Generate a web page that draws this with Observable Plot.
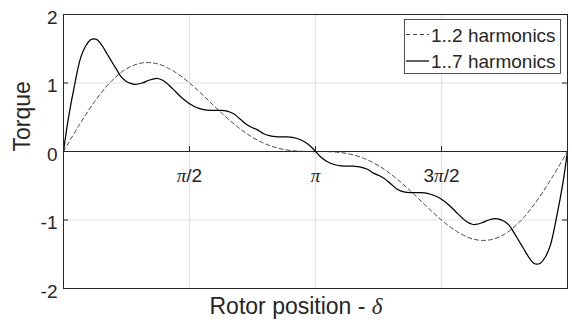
<!DOCTYPE html>
<html><head><meta charset="utf-8">
<script src="https://cdn.jsdelivr.net/npm/d3@7"></script>
<script src="https://cdn.jsdelivr.net/npm/@observablehq/plot@0.6"></script>
<style>body{margin:0;background:#fff;}</style>
</head><body><div id="chart"></div>
<script>
// ---- data ----
const seriesNames = ["1..2 harmonics", "1..7 harmonics"];

const deltaDashed = [0, 0.196, 0.393, 0.589, 0.785, 0.982, 1.178, 1.374, 1.571, 1.767, 1.963, 2.160, 2.356, 2.553, 2.749, 2.945, 3.142,
  3.338, 3.534, 3.731, 3.927, 4.123, 4.320, 4.516, 4.712, 4.909, 5.105, 5.301, 5.498, 5.694, 5.890, 6.087, 6.283];
const torqueDashed = [0, 0.386, 0.737, 1.018, 1.207, 1.293, 1.278, 1.172, 1.0, 0.790, 0.570, 0.369, 0.207, 0.094, 0.029, 0.004, 0,
  -0.004, -0.029, -0.094, -0.207, -0.369, -0.570, -0.790, -1.0, -1.172, -1.278, -1.293, -1.207, -1.018, -0.737, -0.386, 0];

const deltaSolid = [0, 0.056, 0.131, 0.214, 0.276, 0.338, 0.380, 0.420, 0.484, 0.546, 0.608, 0.670, 0.712, 0.774, 0.836, 0.898,
  0.982, 1.064, 1.147, 1.188, 1.250, 1.313, 1.396, 1.479, 1.562, 1.645, 1.748, 1.832, 1.935, 2.039, 2.122, 2.205, 2.288, 2.350,
  2.413, 2.495, 2.578, 2.661, 2.744, 2.827, 2.910, 2.993, 3.076, 3.142,
  3.207, 3.290, 3.373, 3.456, 3.539, 3.622, 3.705, 3.788, 3.870, 3.933, 3.995, 4.078, 4.161, 4.244, 4.348, 4.451, 4.535, 4.638,
  4.721, 4.804, 4.887, 4.970, 5.033, 5.095, 5.136, 5.219, 5.301, 5.385, 5.447, 5.509, 5.571, 5.613, 5.675, 5.737, 5.799, 5.863,
  5.903, 5.945, 6.007, 6.069, 6.152, 6.227, 6.283];
const torqueSolid = [0, 0.45, 0.93, 1.37, 1.54, 1.63, 1.645, 1.63, 1.54, 1.42, 1.30, 1.18, 1.10, 1.03, 0.995, 0.98,
  1.00, 1.04, 1.065, 1.062, 1.03, 0.97, 0.875, 0.78, 0.705, 0.65, 0.61, 0.60, 0.60, 0.59, 0.55, 0.47, 0.39, 0.35,
  0.32, 0.26, 0.227, 0.215, 0.212, 0.21, 0.19, 0.15, 0.08, 0,
  -0.08, -0.15, -0.19, -0.21, -0.212, -0.215, -0.227, -0.26, -0.32, -0.35, -0.39, -0.47, -0.55, -0.59, -0.60, -0.60, -0.61, -0.65,
  -0.705, -0.78, -0.875, -0.97, -1.03, -1.062, -1.065, -1.04, -1.00, -0.98, -0.995, -1.03, -1.10, -1.18, -1.30, -1.42, -1.54, -1.63,
  -1.645, -1.63, -1.54, -1.37, -0.93, -0.45, 0];

const xTickValues = [Math.PI / 2, Math.PI, 3 * Math.PI / 2];
const xTickLabels = ["π/2", "π", "3π/2"];
const yTickValues = [-2, -1, 0, 1, 2];
const yTickLabels = ["-2", "-1", "0", "1", "2"];
const xLabel = "Rotor position - δ";
const yLabel = "Torque";

// ---- layout ----
const W = 572, H = 324, mL = 63, mR = 5, mT = 14, mB = 36;
const plotW = W - mL - mR, plotH = H - mT - mB;
const ink = "#262626";
const font = "'Liberation Sans', Arial, sans-serif";
const greekFont = "'Liberation Serif', 'DejaVu Serif', serif";

const solid = deltaSolid.map((d, i) => ({delta: d, torque: torqueSolid[i]}));
const dashed = deltaDashed.map((d, i) => ({delta: d, torque: torqueDashed[i]}));

const chart = Plot.plot({
  width: W, height: H,
  marginLeft: mL, marginRight: mR, marginTop: mT, marginBottom: mB,
  x: {domain: [0, 2 * Math.PI], axis: null},
  y: {domain: [-2, 2], axis: null},
  style: {background: "white", fontFamily: font, color: ink, overflow: "visible"},
  marks: [
    Plot.ruleX(xTickValues, {stroke: "#e2e2e2", strokeWidth: 1.2}),
    Plot.ruleY([-1, 1], {stroke: "#e2e2e2", strokeWidth: 1.2}),
    Plot.ruleY([0], {stroke: ink, strokeWidth: 1}),
    Plot.tickX(xTickValues, {x: d => d, stroke: ink, insetTop: plotH / 2 - 5, insetBottom: plotH / 2}),
    Plot.tickY(yTickValues.slice(1, -1), {y: d => d, stroke: ink, insetRight: plotW - 5}),
    Plot.tickY(yTickValues.slice(1, -1), {y: d => d, stroke: ink, insetLeft: plotW - 5}),
    Plot.line(dashed, {x: "delta", y: "torque", curve: "catmull-rom", stroke: "#333", strokeWidth: 0.9, strokeDasharray: "4,3"}),
    Plot.line(solid, {x: "delta", y: "torque", curve: "catmull-rom", stroke: "black", strokeWidth: 1.25}),
    Plot.frame({stroke: ink, strokeWidth: 1}),
    Plot.text(xTickValues, {x: d => d, y: 0, text: (d, i) => xTickLabels[i], dy: 24, fontSize: 19, fill: ink}),
    Plot.text(yTickValues, {y: d => d, text: (d, i) => yTickLabels[i], frameAnchor: "left", dx: -6, dy: 3, textAnchor: "end", fontSize: 19, fill: ink}),
    Plot.text([yLabel], {text: d => d, frameAnchor: "left", dx: -41, rotate: -90, fontSize: 23, fill: ink}),
    Plot.text([xLabel], {text: d => d, frameAnchor: "bottom-left", dx: 146, dy: 9, lineAnchor: "top", textAnchor: "start", fontSize: 23, fill: ink})
  ]
});
document.getElementById("chart").appendChild(chart);

const svg = d3.select(chart);
// Greek letters in italic serif, as in the reference
svg.selectAll("text").each(function () {
  const s = this.textContent;
  if (!/[πδ]/.test(s) || this.querySelector("tspan")) return;
  const t = d3.select(this);
  t.text(null);
  s.split(/([πδ])/).filter(p => p).forEach(p => {
    const ts = t.append("tspan").text(p);
    if (p === "π" || p === "δ") ts.attr("font-family", greekFont).style("font-family", greekFont).style("font-style", "italic");
  });
});

// legend
const lg = svg.append("g").attr("text-anchor", "start");
lg.append("rect").attr("x", 404.5).attr("y", 19.5).attr("width", 156).attr("height", 54)
  .attr("fill", "white").attr("stroke", ink).attr("stroke-width", 0.8);
const entries = [
  {name: seriesNames[0], dash: "4,3", sw: 0.9, color: "#333", ly: 34.5, ty: 41.5},
  {name: seriesNames[1], dash: null, sw: 1.25, color: "black", ly: 61, ty: 68}
];
entries.forEach(e => {
  const l = lg.append("line").attr("x1", 406).attr("x2", 429).attr("y1", e.ly).attr("y2", e.ly)
    .attr("stroke", e.color).attr("stroke-width", e.sw);
  if (e.dash) l.attr("stroke-dasharray", e.dash);
  lg.append("text").attr("x", 431).attr("y", e.ty).attr("font-size", 19).attr("font-family", font)
    .attr("text-anchor", "start").attr("fill", ink).text(e.name);
});
</script>
</body></html>
